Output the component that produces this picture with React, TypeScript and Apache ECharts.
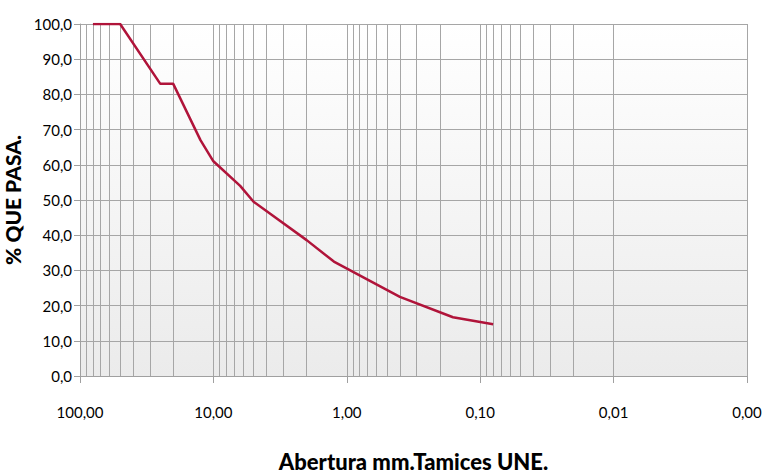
import React, { useEffect, useRef } from "react";
import * as echarts from "echarts";

// Sieve openings (mm) and cumulative percentage passing
const sieveSizes = [80, 50, 25, 20, 12.5, 10, 6.3, 5, 2, 1.25, 0.4, 0.16, 0.08];
const percentPassing = [100, 100, 83, 83, 67, 61, 54, 49.5, 38.6, 32.5, 22.5, 16.7, 14.7];

// Log-axis layout: decades and the minor gridline multipliers inside each one
const decades = [0.001, 0.01, 0.1, 1, 10];
const minorMultipliers = [2, 3, 4, 5, 6, 7, 8, 9];

const yTitle = "% QUE PASA.";
const xTitle = "Abertura mm.Tamices UNE.";

const GRID_COLOR = "#a6a6a6";
const FONT = "Lato, 'Open Sans', sans-serif";

export default function App() {
  const ref = useRef<HTMLDivElement>(null);

  useEffect(() => {
    if (!ref.current) return;
    const chart = echarts.init(ref.current, undefined, { renderer: "svg" });

    const minorLines: { xAxis: number }[] = [];
    decades.forEach((d) =>
      minorMultipliers.forEach((m) => minorLines.push({ xAxis: +(d * m).toPrecision(6) }))
    );

    chart.setOption({
      animation: false,
      textStyle: { fontFamily: FONT },
      grid: {
        left: 80,
        right: 18,
        top: 24,
        bottom: 99,
        containLabel: false,
        outerBoundsMode: "none",
        show: true,
        borderWidth: 0,
        backgroundColor: new echarts.graphic.LinearGradient(0, 0, 0, 1, [
          { offset: 0, color: "#ffffff" },
          { offset: 1, color: "#ebebeb" },
        ]),
      },
      xAxis: {
        type: "log",
        logBase: 10,
        min: 0.001,
        max: 100,
        inverse: true,
        name: xTitle,
        nameLocation: "middle",
        nameGap: 74,
        nameTextStyle: {
          fontSize: 22,
          lineHeight: 22,
          fontWeight: 900,
          color: "#000",
          fontFamily: FONT,
        },
        axisLine: { show: true, onZero: false, lineStyle: { color: "#a0a0a0", width: 1 } },
        axisTick: { show: true, length: 7, lineStyle: { color: "#a0a0a0" } },
        axisLabel: {
          margin: 28,
          fontSize: 15,
          color: "#000",
          fontFamily: FONT,
          formatter: (v: number) => v.toFixed(2).replace(".", ","),
        },
        splitLine: { show: true, lineStyle: { color: GRID_COLOR, width: 1 } },
        minorTick: { show: false },
      },
      yAxis: {
        type: "value",
        min: 0,
        max: 100,
        interval: 10,
        name: yTitle,
        nameLocation: "middle",
        nameRotate: 90,
        nameGap: 53,
        nameTextStyle: { fontSize: 21, fontWeight: 900, color: "#000", fontFamily: FONT },
        axisLine: { show: true, lineStyle: { color: "#a0a0a0", width: 1 } },
        axisTick: { show: true, length: 6, lineStyle: { color: "#a0a0a0" } },
        axisLabel: {
          margin: 8,
          fontSize: 15,
          color: "#000",
          fontFamily: FONT,
          formatter: (v: number) => v.toFixed(1).replace(".", ","),
        },
        splitLine: { show: true, lineStyle: { color: GRID_COLOR, width: 1 } },
      },
      series: [
        {
          type: "line",
          data: sieveSizes.map((s, i) => [s, percentPassing[i]]),
          showSymbol: false,
          symbol: "none",
          lineStyle: { color: "#b0143a", width: 2.5 },
          z: 5,
          markLine: {
            silent: true,
            symbol: ["none", "none"],
            label: { show: false },
            lineStyle: { color: GRID_COLOR, type: "solid", width: 1 },
            data: minorLines,
            z: 1,
          },
        },
      ],
    });

    return () => chart.dispose();
  }, []);

  return <div ref={ref} style={{ width: 765, height: 475, position: "absolute", left: 0, top: 0 }} />;
}
